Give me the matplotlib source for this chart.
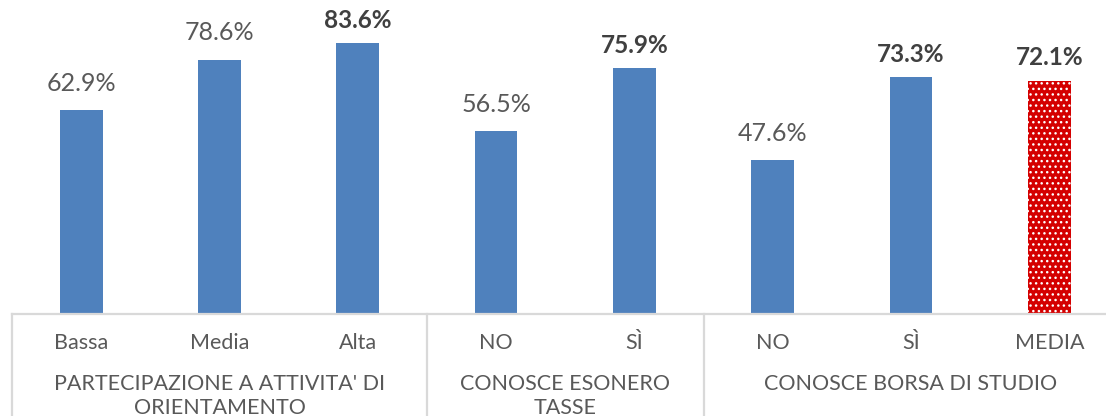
import matplotlib.pyplot as plt
import numpy as np

plt.rcParams["font.family"] = ["Lato", "DejaVu Sans"]
plt.rcParams["hatch.linewidth"] = 1.0

categories = ["Bassa", "Media", "Alta", "NO", "SÌ", "NO", "SÌ", "MEDIA"]
values = [62.9, 78.6, 83.6, 56.5, 75.9, 47.6, 73.3, 72.1]
bold_labels = [False, False, True, False, True, False, True, True]
groups = ["PARTECIPAZIONE A ATTIVITA' DI\nORIENTAMENTO", "CONOSCE ESONERO\nTASSE",
          "CONOSCE BORSA DI STUDIO"]
group_sizes = [3, 2, 3]

BLUE = "#4F81BD"
RED = "#D40000"
GREY = "#595959"
LINE = "#D9D9D9"

W, H = 1106, 416
fig = plt.figure(figsize=(W / 100, H / 100), dpi=100)
cat_w = 138.3
ax = fig.add_axes([12 / W, (H - 314) / H, 8 * cat_w / W, 314 / H])

x = np.arange(len(categories))
colors = [BLUE] * (len(categories) - 1) + [RED]
bars = ax.bar(x, values, width=0.31, color=colors, zorder=2, linewidth=0)
bars[-1].set_hatch("...")
bars[-1].set_edgecolor("white")

for xi, v, b in zip(x, values, bold_labels):
    ax.annotate(f"{v:.1f}%", (xi, v), xytext=(0, 8 if b else 11), textcoords="offset points",
                ha="center", va="bottom", fontsize=17.5 if b else 18,
                color="#404040" if b else GREY,
                fontweight="bold" if b else "normal")

ax.set_xlim(-0.5, len(categories) - 0.5)
ax.set_ylim(0, 97)
for s in ["top", "right", "left"]:
    ax.spines[s].set_visible(False)
ax.spines["bottom"].set_color(LINE)
ax.spines["bottom"].set_linewidth(1.6)
ax.set_yticks([])
ax.set_xticks(x)
ax.set_xticklabels(categories, fontsize=15.5, color=GREY)
ax.tick_params(axis="x", length=0, pad=14)

# group separators and group labels
trans = ax.get_xaxis_transform()
start = 0
edges = [-0.5]
for g, n in zip(groups, group_sizes):
    center = start + (n - 1) / 2
    ax.text(center, -0.19, g, transform=trans, ha="center", va="top",
            fontsize=15.5, color=GREY, linespacing=1.25, clip_on=False)
    start += n
    edges.append(start - 0.5)
for e in edges:
    ax.plot([e, e], [0, -0.4], transform=trans, color=LINE, lw=1.6, clip_on=False)

fig.savefig("out.png", dpi=100)
